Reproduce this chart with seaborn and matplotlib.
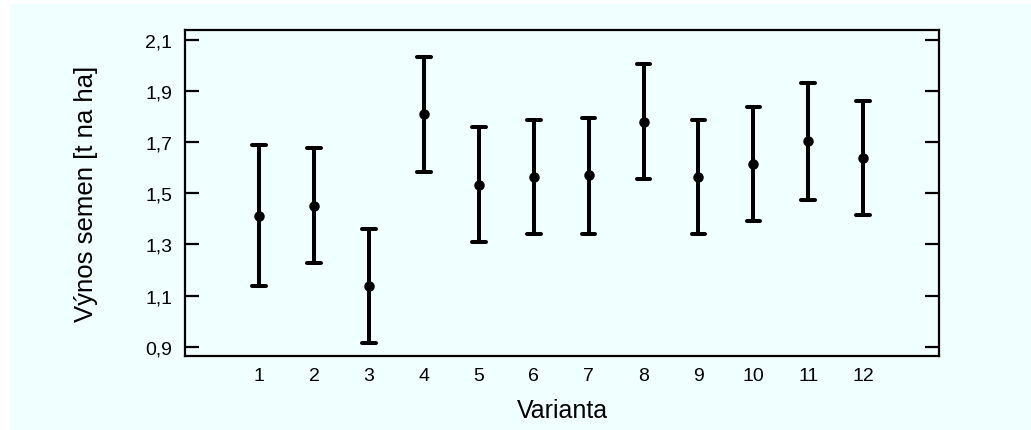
import matplotlib
matplotlib.use('Agg')
import matplotlib.pyplot as plt
import matplotlib.patches as patches
import seaborn as sns
import pandas as pd

varianty = [1, 2, 3, 4, 5, 6, 7, 8, 9, 10, 11, 12]
prumer = [1.413, 1.451, 1.138, 1.810, 1.533, 1.564, 1.571, 1.779, 1.564, 1.615, 1.705, 1.638]
dolni = [1.138, 1.227, 0.914, 1.585, 1.310, 1.340, 1.340, 1.556, 1.340, 1.391, 1.473, 1.414]
horni = [1.689, 1.675, 1.361, 2.034, 1.757, 1.787, 1.795, 2.004, 1.787, 1.839, 1.929, 1.861]
y_ticks = [0.9, 1.1, 1.3, 1.5, 1.7, 1.9, 2.1]
y_labels = ['0,9', '1,1', '1,3', '1,5', '1,7', '1,9', '2,1']

# three rows per variant: lower, mean, upper -> median = mean, 100% interval = lower..upper
rows = []
for v, lo, m, hi in zip(varianty, dolni, prumer, horni):
    for val in (lo, m, hi):
        rows.append({'Varianta': v, 'Vynos': val})
df = pd.DataFrame(rows)

sns.set_style('ticks')
plt.rcParams['font.family'] = ['Liberation Sans', 'DejaVu Sans']
plt.rcParams['text.color'] = 'black'
plt.rcParams['axes.labelcolor'] = 'black'
plt.rcParams['xtick.color'] = 'black'
plt.rcParams['ytick.color'] = 'black'
bg = '#F0FFFF'

fig = plt.figure(figsize=(10.31, 4.31), dpi=100, facecolor='white')
fig.patches.append(patches.Rectangle((10 / 1031, -0.05), 1.1, 0.05 + 426 / 431, transform=fig.transFigure,
                                     facecolor=bg, edgecolor='none', zorder=-10))
ax = fig.add_axes([185 / 1031, 1 - 357 / 431, (939 - 185) / 1031, (357 - 31) / 431])
ax.set_facecolor(bg)

sns.pointplot(data=df, x='Varianta', y='Vynos', estimator='median', errorbar=('pi', 100),
              native_scale=True, linestyle='none', color='black', capsize=0.25,
              markers='o', markersize=5.5, err_kws={'linewidth': 2.9}, ax=ax)

ax.set_xlim(-0.35, 13.38)
ax.set_ylim(0.864, 2.138)
ax.set_xticks(varianty)
ax.set_xticklabels([str(v) for v in varianty])
ax.set_yticks(y_ticks)
ax.set_yticklabels(y_labels)
ax.tick_params(axis='x', length=0, labelsize=14, pad=8)
ax.tick_params(axis='y', direction='in', length=10, width=1.6, labelsize=14,
               right=True, left=True, pad=9)
for sp in ax.spines.values():
    sp.set_linewidth(1.6)
    sp.set_color('black')

ax.set_xlabel('Varianta', fontsize=18, labelpad=10)
ax.set_ylabel('Výnos semen [t na ha]', fontsize=18.5, labelpad=34)

plt.savefig('out.png', dpi=100, facecolor='white')
plt.close()
